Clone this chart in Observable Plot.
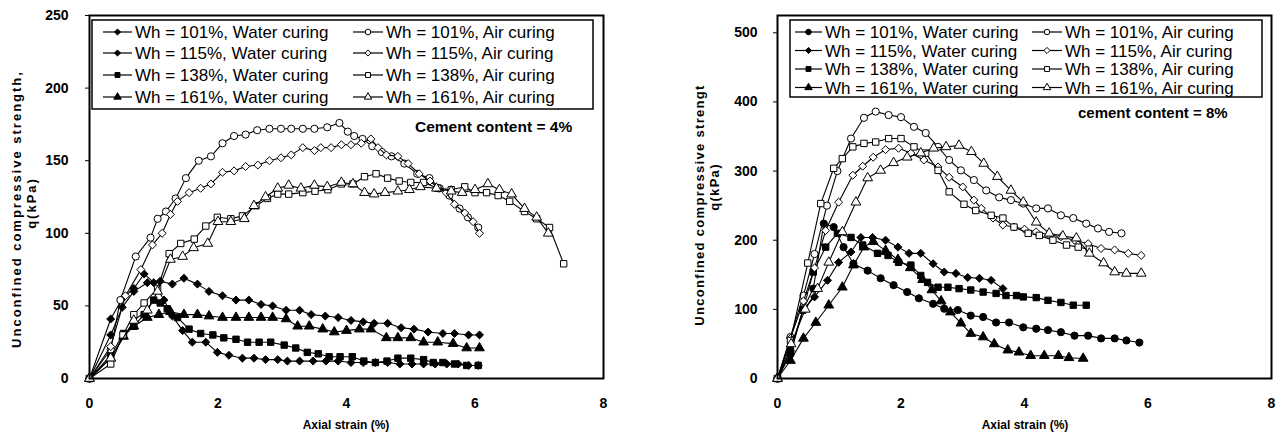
<!DOCTYPE html>
<html><head><meta charset="utf-8">
<script src="https://cdn.jsdelivr.net/npm/d3@7"></script>
<script src="https://cdn.jsdelivr.net/npm/@observablehq/plot@0.6"></script>
<style>
body{margin:0;background:#fff;}
#wrap{position:relative;width:1281px;height:437px;overflow:hidden;font-family:"Liberation Sans",Arial,sans-serif;}
#wrap > svg{position:absolute;top:0;}
</style></head><body><div id="wrap"></div>
<script>
// ---------- tick values ----------
const xTicks = [0, 2, 4, 6, 8];
const leftYTicks = [0, 50, 100, 150, 200, 250];
const rightYTicks = [0, 100, 200, 300, 400, 500];

// ---------- legend / text ----------
const legendLabels = [
  "Wh = 101%, Water curing", "Wh = 115%, Water curing", "Wh = 138%, Water curing", "Wh = 161%, Water curing",
  "Wh = 101%, Air curing", "Wh = 115%, Air curing", "Wh = 138%, Air curing", "Wh = 161%, Air curing"
];
const leftNote = "Cement content = 4%";
const rightNote = "cement content = 8%";
const xTitle = "Axial strain (%)";
const leftYTitle = ["Unconfined compressive strength,", "q(kPa)"];
const rightYTitle = ["Unconfined compressive strengt", "q(kPa)"];

// ---------- left panel (cement 4%) : [axial strain %, q kPa] ----------
const left_water_101 = [[0,0],[0.33,41],[0.51,55],[0.69,62],[0.85,72],[1.0,66],[1.16,54],[1.29,43],[1.45,33],[1.6,25],[1.81,25],[1.99,18],[2.17,16],[2.38,14],[2.56,14],[2.74,13],[2.93,13],[3.08,12],[3.27,12],[3.48,12],[3.68,12],[3.87,12],[4.07,11],[4.26,11],[4.45,11],[4.64,11],[4.83,10],[5.02,10],[5.2,10],[5.38,10],[5.56,10],[5.74,10],[5.9,9],[6.05,9]];
const left_water_115 = [[0,0],[0.33,30],[0.51,49],[0.69,60],[0.9,66],[1.1,67],[1.29,65],[1.47,69],[1.68,65],[1.86,60],[2.07,57],[2.28,54],[2.48,54],[2.67,51],[2.85,50],[3.06,47],[3.27,47],[3.45,44],[3.67,43],[3.87,42],[4.07,40],[4.26,39],[4.43,38],[4.64,38],[4.85,35],[5.05,34],[5.27,32],[5.5,31],[5.68,31],[5.9,30],[6.07,30]];
const left_water_138 = [[0,0],[0.33,16],[0.53,31],[0.69,36],[0.85,44],[1.0,54],[1.1,52],[1.21,48],[1.37,42],[1.55,34],[1.73,31],[1.92,30],[2.09,28],[2.28,27],[2.46,25],[2.64,25],[2.82,25],[3.03,23],[3.21,21],[3.39,18],[3.56,17],[3.73,15],[3.9,15],[4.09,15],[4.27,12],[4.45,11],[4.63,12],[4.8,14],[5.0,14],[5.2,13],[5.35,11],[5.5,11],[5.68,10],[5.87,9],[6.05,9]];
const left_water_161 = [[0,0],[0.33,14],[0.53,29],[0.69,36],[0.9,42],[1.08,44],[1.26,46],[1.47,44],[1.68,44],[1.86,43],[2.07,42],[2.28,42],[2.48,42],[2.67,42],[2.85,42],[3.06,41],[3.24,36],[3.42,36],[3.63,34],[3.81,32],[4.0,33],[4.2,34],[4.38,34],[4.62,28],[4.8,28],[5.0,28],[5.2,25],[5.42,25],[5.66,24],[5.87,21],[6.07,21]];
const left_air_101 = [[0,0],[0.33,20],[0.48,54],[0.72,84],[0.95,97],[1.06,110],[1.19,115],[1.34,124],[1.5,138],[1.7,150],[1.89,153],[2.07,162],[2.25,167],[2.43,168],[2.61,171],[2.8,172],[2.98,172],[3.14,172],[3.32,172],[3.5,172],[3.7,173],[3.89,176],[4.02,170],[4.12,167],[4.25,165],[4.4,160],[4.55,156],[4.7,153],[4.9,148],[5.1,141],[5.29,138],[5.45,131],[5.6,126],[5.76,117],[5.89,111],[6.05,104]];
const left_air_115 = [[0,0],[0.33,22],[0.56,57],[0.8,75],[0.98,92],[1.13,100],[1.26,113],[1.37,122],[1.55,128],[1.73,131],[1.89,134],[2.07,142],[2.25,143],[2.43,146],[2.62,147],[2.8,150],[2.98,152],[3.14,154],[3.32,159],[3.5,157],[3.6,159],[3.76,159],[3.92,161],[4.07,161],[4.23,162],[4.38,165],[4.49,159],[4.62,154],[4.8,153],[4.96,148],[5.13,141],[5.3,136],[5.43,131],[5.55,128],[5.68,120],[5.84,114],[5.97,108],[6.07,100]];
const left_air_138 = [[0,0],[0.33,10],[0.52,30],[0.69,44],[0.85,52],[1.06,62],[1.24,86],[1.42,93],[1.63,96],[1.81,105],[1.99,111],[2.2,110],[2.38,112],[2.59,119],[2.77,124],[2.93,127],[3.1,127],[3.32,128],[3.51,129],[3.71,130],[3.92,134],[4.1,134],[4.28,139],[4.46,141],[4.64,138],[4.82,136],[5.0,135],[5.2,135],[5.42,131],[5.63,130],[5.84,132],[6.0,128],[6.18,128],[6.36,126],[6.54,122],[6.77,115],[6.96,110],[7.16,104],[7.38,79]];
const left_air_161 = [[0,0],[0.33,14],[0.69,40],[0.9,47],[1.06,60],[1.26,82],[1.45,84],[1.62,90],[1.84,93],[2.0,108],[2.2,108],[2.41,110],[2.56,119],[2.74,125],[2.93,131],[3.1,133],[3.29,131],[3.5,133],[3.7,132],[3.92,135],[4.1,134],[4.28,128],[4.43,127],[4.6,128],[4.8,129],[4.98,130],[5.15,132],[5.4,131],[5.63,129],[5.8,128],[6.0,130],[6.2,134],[6.38,130],[6.57,127],[6.77,117],[6.96,111],[7.14,100]];

// ---------- right panel (cement 8%) ----------
const right_water_101 = [[0,0],[0.21,35],[0.41,99],[0.58,130],[0.75,224],[0.91,219],[1.07,190],[1.23,166],[1.46,156],[1.67,145],[1.88,135],[2.1,125],[2.29,116],[2.52,108],[2.7,101],[2.92,99],[3.13,91],[3.33,89],[3.54,81],[3.75,81],[3.98,74],[4.19,72],[4.38,70],[4.59,67],[4.81,62],[5.03,62],[5.24,58],[5.46,58],[5.65,55],[5.86,52]];
const right_water_115 = [[0,0],[0.21,40],[0.42,100],[0.6,118],[0.81,142],[0.99,168],[1.19,183],[1.35,204],[1.54,204],[1.75,200],[1.95,190],[2.13,181],[2.32,181],[2.52,166],[2.7,154],[2.89,152],[3.08,146],[3.27,145],[3.46,142],[3.65,130]];
const right_water_138 = [[0,0],[0.21,40],[0.41,99],[0.58,154],[0.78,190],[0.97,210],[1.19,204],[1.38,193],[1.62,181],[1.79,178],[1.96,168],[2.16,164],[2.32,149],[2.43,139],[2.6,132],[2.76,132],[2.94,130],[3.13,128],[3.33,125],[3.54,123],[3.7,120],[3.87,120],[3.98,118],[4.19,117],[4.38,113],[4.59,110],[4.79,106],[5.0,106]];
const right_water_161 = [[0,0],[0.21,26],[0.42,58],[0.62,81],[0.83,106],[1.05,132],[1.23,164],[1.4,190],[1.55,198],[1.75,185],[1.95,172],[2.15,160],[2.35,143],[2.5,128],[2.65,112],[2.8,96],[2.97,80],[3.13,65],[3.33,60],[3.51,50],[3.73,41],[3.91,38],[4.1,33],[4.32,33],[4.55,33],[4.72,30],[4.95,29]];
const right_air_101 = [[0,0],[0.21,60],[0.42,120],[0.6,180],[0.8,250],[0.97,300],[1.19,347],[1.4,377],[1.59,386],[1.8,381],[2.0,378],[2.21,364],[2.4,355],[2.6,335],[2.78,316],[2.97,301],[3.18,287],[3.38,272],[3.59,262],[3.78,258],[3.98,253],[4.19,246],[4.38,246],[4.59,236],[4.79,232],[5.0,224],[5.19,217],[5.37,212],[5.57,210]];
const right_air_115 = [[0,0],[0.21,58],[0.42,112],[0.6,160],[0.78,214],[0.99,255],[1.22,294],[1.38,307],[1.55,320],[1.75,331],[1.96,333],[2.16,326],[2.37,316],[2.6,306],[2.78,291],[3.0,277],[3.18,258],[3.3,246],[3.49,232],[3.65,222],[3.83,219],[4.0,216],[4.19,212],[4.4,208],[4.59,205],[4.81,200],[5.03,195],[5.24,188],[5.46,186],[5.68,181],[5.89,178]];
const right_air_138 = [[0,0],[0.21,55],[0.49,167],[0.7,253],[0.91,304],[1.05,318],[1.22,335],[1.4,340],[1.59,342],[1.8,347],[2.0,347],[2.21,335],[2.4,326],[2.6,301],[2.78,270],[3.02,252],[3.21,243],[3.46,236],[3.65,232],[3.83,219],[4.06,210],[4.24,207],[4.46,200],[4.68,193],[4.87,190],[5.05,187]];
const right_air_161 = [[0,0],[0.22,50],[0.45,100],[0.65,130],[0.83,168],[1.05,212],[1.27,255],[1.46,290],[1.67,301],[1.88,312],[2.1,320],[2.32,326],[2.53,333],[2.73,335],[2.94,337],[3.14,328],[3.34,311],[3.56,292],[3.78,272],[3.98,255],[4.19,226],[4.4,210],[4.62,206],[4.84,203],[5.05,181],[5.28,167],[5.46,154],[5.65,152],[5.89,152]];

// ---------- symbols ----------
const leftSymbols  = ["diamond2","diamond2","square","triangle","circle","diamond2","square","triangle"];
const rightSymbols = ["circle","diamond2","square","triangle","circle","diamond2","square","triangle"];
const filledFlags  = [true,true,true,true,false,false,false,false];

const leftSeries  = [left_water_101,left_water_115,left_water_138,left_water_161,left_air_101,left_air_115,left_air_138,left_air_161];
const rightSeries = [right_water_101,right_water_115,right_water_138,right_water_161,right_air_101,right_air_115,right_air_138,right_air_161];

function seriesMarks(series, symbols) {
  const marks = [];
  series.forEach((pts, i) => {
    marks.push(Plot.line(pts, {x: d => d[0], y: d => d[1], stroke: "#000", strokeWidth: 1.1}));
    marks.push(Plot.dot(pts, {x: d => d[0], y: d => d[1], symbol: symbols[i], r: 3.6,
      fill: filledFlags[i] ? "#000" : "#fff", stroke: "#000", strokeWidth: 1}));
  });
  return marks;
}

const wrap = document.getElementById("wrap");
const common = {
  height: 437, marginTop: 15, marginBottom: 59,
  style: {fontFamily: "Liberation Sans, Arial, sans-serif", fontSize: "14px", fontWeight: "bold", background: "transparent", color: "#000"}
};

const leftPlot = Plot.plot({
  ...common, width: 640, marginLeft: 89, marginRight: 37,
  x: {domain: [0, 8], ticks: xTicks, tickSize: 0, tickPadding: 20, label: null},
  y: {domain: [0, 250], ticks: leftYTicks, tickSize: 4, tickPadding: 17, label: null},
  marks: [...seriesMarks(leftSeries, leftSymbols), Plot.frame({stroke: "#000", strokeWidth: 2})]
});
leftPlot.style.left = "0px";
wrap.appendChild(leftPlot);

const rightPlot = Plot.plot({
  ...common, width: 641, marginLeft: 137, marginRight: 10,
  x: {domain: [0, 8], ticks: xTicks, tickSize: 0, tickPadding: 20, label: null},
  y: {domain: [0, 525], ticks: rightYTicks, tickSize: 4, tickPadding: 16, label: null},
  marks: [...seriesMarks(rightSeries, rightSymbols), Plot.frame({stroke: "#000", strokeWidth: 2})]
});
rightPlot.style.left = "640px";
wrap.appendChild(rightPlot);

// ---------- overlay: legends, titles, notes ----------
const ov = d3.select(wrap).append("svg").attr("width", 1281).attr("height", 437)
  .style("left", "0px").style("pointer-events", "none")
  .style("font-family", "Liberation Sans, Arial, sans-serif");

const symMap = {circle: d3.symbolCircle, diamond2: d3.symbolDiamond2, square: d3.symbolSquare, triangle: d3.symbolTriangle};

function legend(box, rowYs, cols, symbols) {
  ov.append("rect").attr("x", box[0]).attr("y", box[1]).attr("width", box[2] - box[0]).attr("height", box[3] - box[1])
    .attr("fill", "#fff").attr("stroke", "#000").attr("stroke-width", 1.5);
  legendLabels.forEach((lab, i) => {
    const c = cols[i < 4 ? 0 : 1];
    const y = rowYs[i % 4];
    ov.append("line").attr("x1", c[0]).attr("x2", c[1]).attr("y1", y).attr("y2", y).attr("stroke", "#000").attr("stroke-width", 1.2);
    ov.append("path").attr("d", d3.symbol(symMap[symbols[i]], 24)())
      .attr("transform", `translate(${(c[0] + c[1]) / 2},${y})`)
      .attr("fill", filledFlags[i] ? "#000" : "#fff").attr("stroke", "#000").attr("stroke-width", 1);
    ov.append("text").attr("x", c[2]).attr("y", y + 6).attr("font-size", 17).text(lab);
  });
}
legend([92, 20, 593, 109], [32, 53, 75, 97], [[103, 132, 135], [353, 383, 386]], leftSymbols);
legend([790, 20, 1262, 97], [32, 50.5, 69, 87.5], [[795, 822, 825], [1032, 1062, 1065]], rightSymbols);

ov.append("text").attr("x", 415).attr("y", 132).attr("font-size", 15.5).attr("font-weight", "bold").text(leftNote);
ov.append("text").attr("x", 1078).attr("y", 118).attr("font-size", 15).attr("font-weight", "bold").text(rightNote);

function yTitle(lines, xs, ys, spacing) {
  lines.forEach((t, i) => {
    ov.append("text").attr("transform", `translate(${xs[i]},${ys[i]}) rotate(-90)`)
      .attr("text-anchor", "middle").attr("dominant-baseline", "central")
      .attr("font-size", 13).attr("font-weight", "bold").attr("letter-spacing", spacing).text(t);
  });
}
yTitle(leftYTitle, [16, 31], [209, 203], 2);
yTitle(rightYTitle, [699, 714], [205, 187], 1.3);

ov.append("text").attr("x", 346).attr("y", 429).attr("text-anchor", "middle").attr("font-size", 12).attr("font-weight", "bold").text(xTitle);
ov.append("text").attr("x", 1025).attr("y", 429).attr("text-anchor", "middle").attr("font-size", 12).attr("font-weight", "bold").text(xTitle);
</script>
</body></html>
